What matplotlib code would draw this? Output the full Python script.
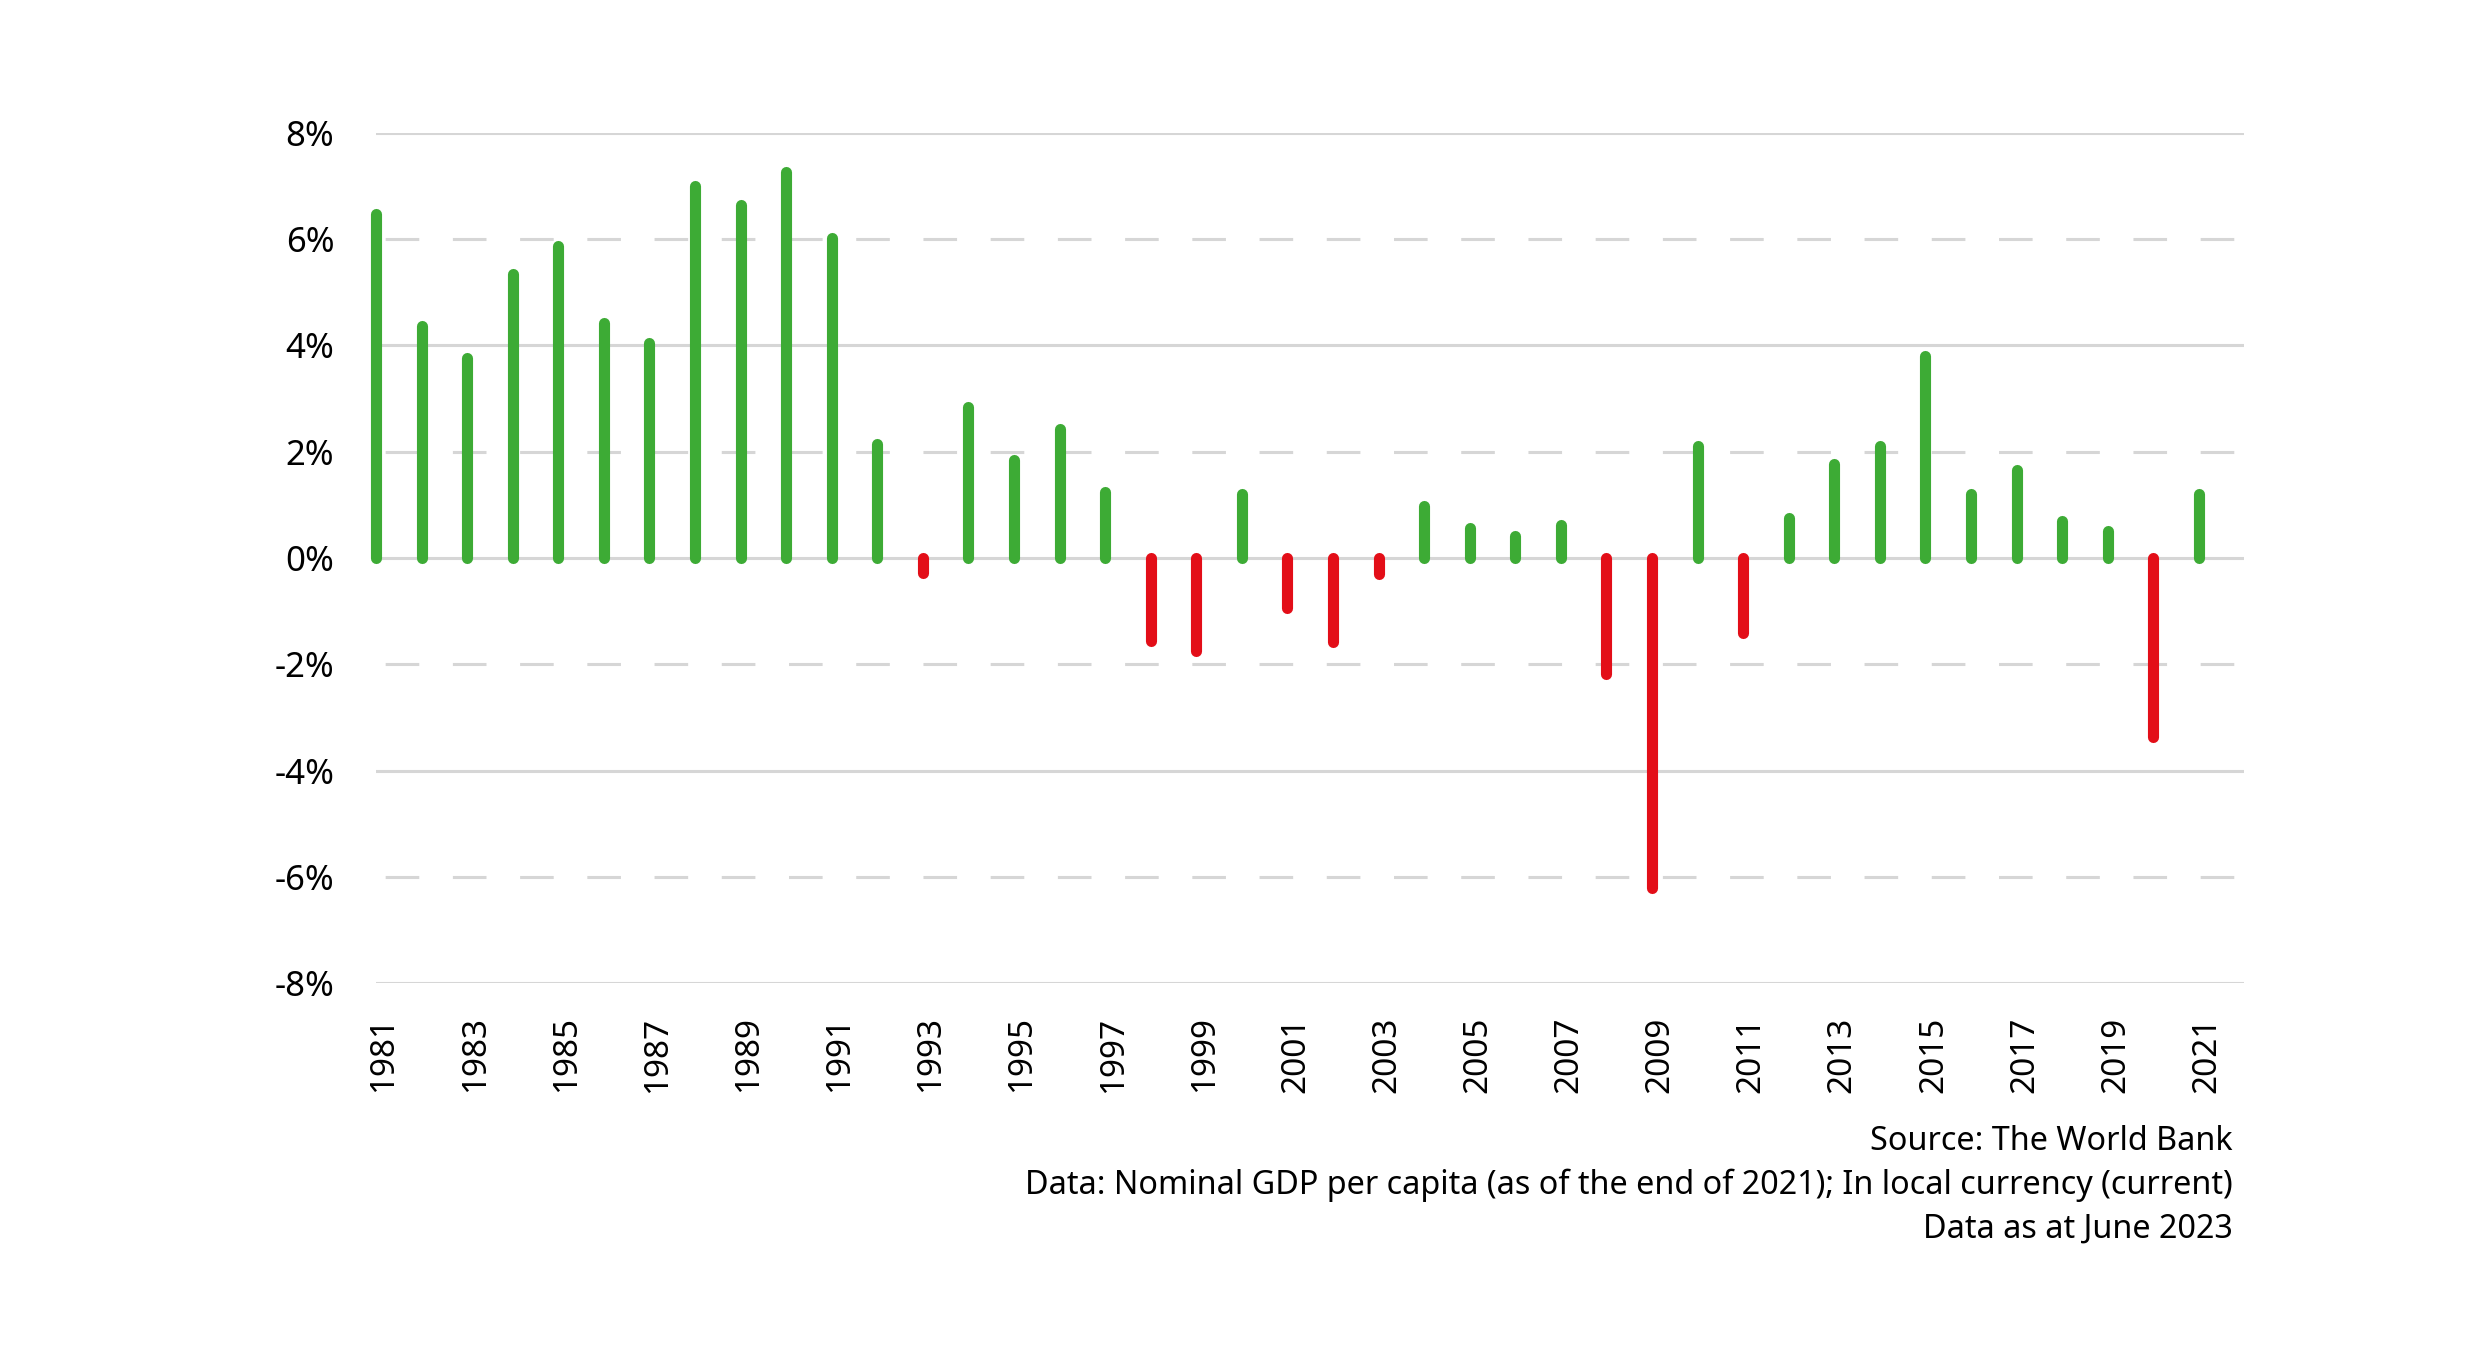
import matplotlib.pyplot as plt
import matplotlib.transforms as mtransforms
import numpy as np

years = np.arange(1981, 2022)
growth = [6.48, 4.37, 3.77, 5.34, 5.88, 4.42, 4.05, 7.00, 6.64, 7.27,
          6.02, 2.14, -0.29, 2.85, 1.84, 2.43, 1.24, -1.56, -1.75, 1.21,
          -0.94, -1.59, -0.31, 0.98, 0.56, 0.41, 0.63, -2.18, -6.21, 2.11,
          -1.41, 0.76, 1.77, 2.11, 3.80, 1.21, 1.66, 0.69, 0.51, -3.36,
          1.21]
yticks = [-8, -6, -4, -2, 0, 2, 4, 6, 8]
xticks = years[::2]
notes = ['Source: The World Bank',
         'Data: Nominal GDP per capita (as of the end of 2021); In local currency (current)',
         'Data as at June 2023']

GREEN = '#3dab35'
RED = '#e30e18'
GRID = '#d6d6d6'

plt.rcParams['font.family'] = ['Noto Sans', 'DejaVu Sans']

fig = plt.figure(figsize=(12.4, 6.78), dpi=200)
ax = fig.add_axes([0.1516, 0.275, 0.905 - 0.1516, 0.902 - 0.275])

# gridlines: solid every 4%, dashed in between
for t in yticks:
    if t % 4 == 0:
        ax.axhline(t, color=GRID, lw=1.1, zorder=0)
    else:
        ax.axhline(t, color=GRID, lw=1.1, ls=(19, (11, 11)), zorder=0)

g = np.array(growth)
colors = [GREEN if v >= 0 else RED for v in g]
ax.vlines(years, 0, g, colors=colors, linewidth=4, capstyle='round',
          zorder=2, clip_on=False)

ax.set_xlim(1981, 2022)
ax.set_ylim(-8, 8)
ax.set_yticks(yticks)
ax.set_yticklabels([f'{t}%' for t in yticks], fontsize=12.5)
ax.set_xticks(xticks)
ax.set_xticklabels([str(y) for y in xticks], rotation=90, fontsize=12)
ax.tick_params(length=0, pad=15)
ax.tick_params(axis='x', pad=12)
shift = mtransforms.ScaledTranslation(0.04, 0, fig.dpi_scale_trans)
for lbl in ax.get_xticklabels():
    lbl.set_transform(lbl.get_transform() + shift)
for s in ax.spines.values():
    s.set_visible(False)

for i, line in enumerate(notes):
    fig.text(2233 / 2480, 1 - (1142 + i * 43.5) / 1356, line, ha='right',
             va='center', fontsize=11.65)

fig.savefig('out.png', dpi=200, facecolor='white')
